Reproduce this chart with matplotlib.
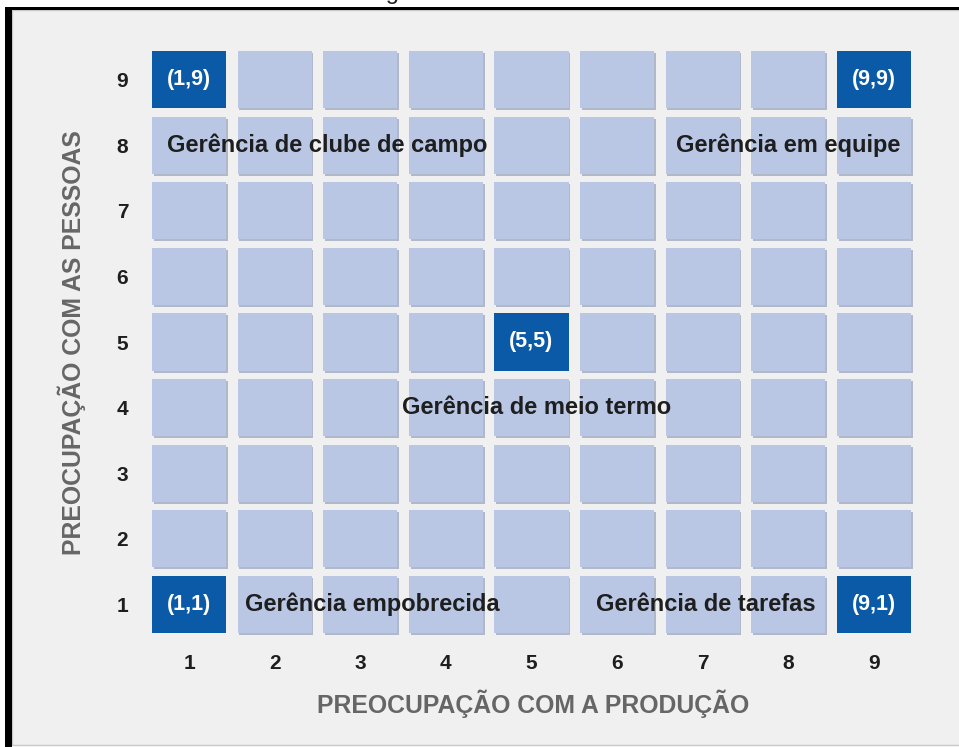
import matplotlib
matplotlib.use("Agg")
import matplotlib.pyplot as plt
from matplotlib.patches import Rectangle

# Dados do grid gerencial
producao = [1, 2, 3, 4, 5, 6, 7, 8, 9]
pessoas = [1, 2, 3, 4, 5, 6, 7, 8, 9]
destaques = [(1, 9), (9, 9), (5, 5), (1, 1), (9, 1)]
estilos_texto = ["Gerência de clube de campo", "Gerência em equipe",
                 "Gerência de meio termo", "Gerência empobrecida",
                 "Gerência de tarefas"]
estilos_x = [2.61, 8.0, 5.06, 3.14, 7.04]
estilos_y = [8, 8, 4, 1, 1]

FONTE = "Liberation Sans"
AZUL_ESCURO = "#0a5aa8"
AZUL_CLARO = "#b9c7e5"
SOMBRA = "#95a1bb"
FUNDO = "#f0f0f0"

fig = plt.figure(figsize=(9.59, 7.47), dpi=100)
fig.patch.set_facecolor("white")

# moldura: fundo cinza com borda preta à esquerda e em cima
fig.patches.append(Rectangle((12 / 959, 2 / 747), 1, 1 - 12 / 747,
                             transform=fig.transFigure, facecolor=FUNDO,
                             edgecolor="#c8c8c8", linewidth=1.0, zorder=-2))
fig.patches.append(Rectangle((5 / 959, 0), 7 / 959, 1 - 7 / 747,
                             transform=fig.transFigure, facecolor="black",
                             edgecolor="none", zorder=-1))
fig.patches.append(Rectangle((5 / 959, 1 - 10 / 747), 1, 3 / 747,
                             transform=fig.transFigure, facecolor="black",
                             edgecolor="none", zorder=-1))

# titulo cortado no topo
fig.text(0.52, 1 + 1 / 747, "Figura 1 – Grid Gerencial", ha="center",
         va="baseline", fontsize=17, family=FONTE, color="#222222")

ax = fig.add_axes([146.2 / 959, 109.7 / 747, 770.6 / 959, 590.6 / 747])
ax.set_facecolor("none")
ax.set_xlim(0.5, 9.5)
ax.set_ylim(0.5, 9.5)
for s in ax.spines.values():
    s.set_visible(False)

w, h = 0.865, 0.87
dx, dy = 0.02, 0.03
for cx in producao:
    for cy in pessoas:
        escuro = (cx, cy) in destaques
        if not escuro:
            ax.add_patch(Rectangle((cx - w / 2 + dx, cy - h / 2 - dy), w, h,
                                   facecolor=SOMBRA, edgecolor="none",
                                   alpha=0.7, zorder=1))
        ax.add_patch(Rectangle((cx - w / 2, cy - h / 2), w, h,
                               facecolor=AZUL_ESCURO if escuro else AZUL_CLARO,
                               edgecolor="none", zorder=2))
        if escuro:
            ax.text(cx, cy, f"({cx},{cy})", ha="center", va="center",
                    color="white", fontsize=15.5, fontweight="bold",
                    family=FONTE, zorder=4)

for txt, x, y in zip(estilos_texto, estilos_x, estilos_y):
    ax.text(x, y, txt, ha="center", va="center", color="#1e1e1e",
            fontsize=17, fontweight="bold", family=FONTE, zorder=5)

ax.set_xticks(producao)
ax.set_yticks(pessoas)
ax.set_xticklabels([str(v) for v in producao])
ax.set_yticklabels([str(v) for v in pessoas])
ax.tick_params(length=0, labelsize=15, labelcolor="#1e1e1e")
ax.tick_params(axis="x", pad=12)
ax.tick_params(axis="y", pad=13)
for lab in ax.get_xticklabels() + ax.get_yticklabels():
    lab.set_fontweight("bold")
    lab.set_family(FONTE)

fig.text(533 / 959, 1 - 704 / 747, "PREOCUPAÇÃO COM A PRODUÇÃO", ha="center",
         va="center", fontsize=17.8, fontweight="bold", family=FONTE,
         color="#666666")
fig.text(72 / 959, 1 - 343 / 747, "PREOCUPAÇÃO COM AS PESSOAS", ha="center",
         va="center", rotation=90, fontsize=17.8, fontweight="bold",
         family=FONTE, color="#666666")

fig.savefig("out.png", dpi=100, facecolor=fig.get_facecolor())
